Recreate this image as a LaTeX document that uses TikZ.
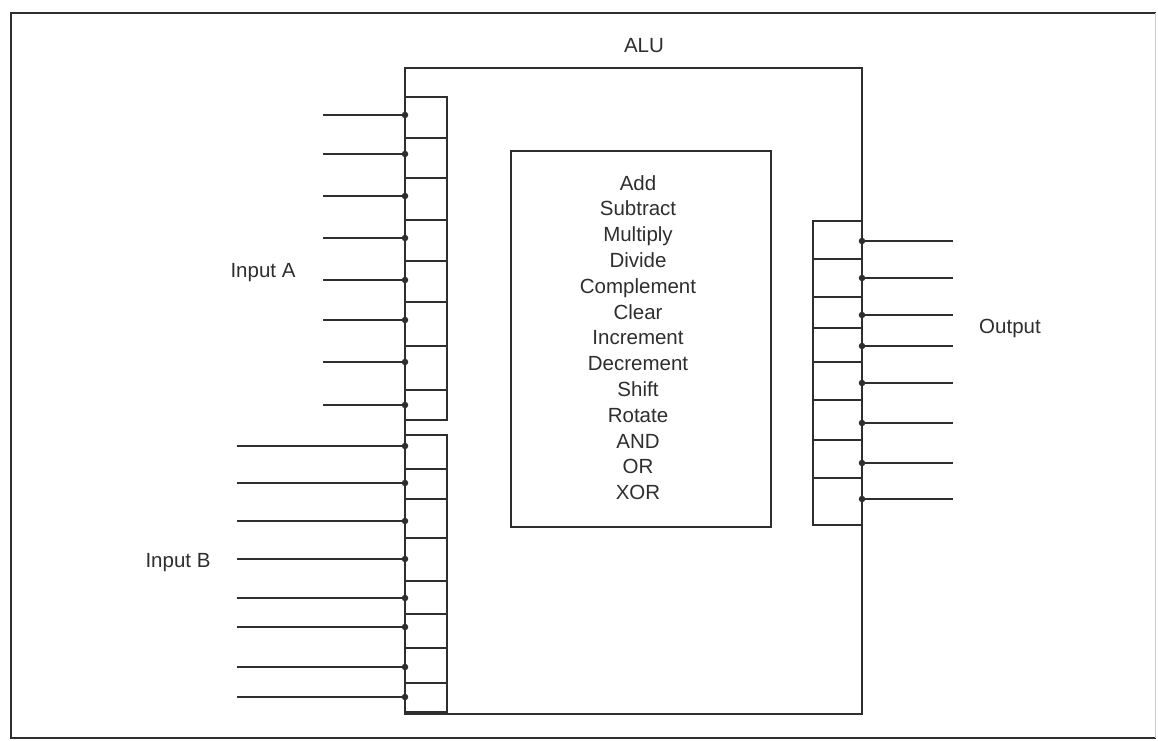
\documentclass[tikz,border=0pt]{standalone}
\usepackage{fontspec}
\setmainfont{Liberation Sans}
\begin{document}
\begin{tikzpicture}[x=1pt,y=-1pt,
  line width=1.6pt,
  ink/.style={draw=black!82},
  lbl/.style={font=\fontsize{20.5}{24}\selectfont, inner sep=0pt, anchor=base, text=black!82},
  wire/.style={ink, line width=1.7pt},
  dot/.style={circle, fill=black!82, inner sep=0pt, minimum size=6.5pt}]
\useasboundingbox (0,0) rectangle (1158,740);
% outer frame
\draw[ink] (1156,13) -- (11,13) -- (11,738) -- (1156,738);
\draw[black!20, line width=1pt] (1155,13) -- (1155,738);
% ALU box
\node[lbl] (alu) at (644,52) {ALU};
\draw[ink] (405,68) rectangle (862,714);
% operations box
\draw[ink] (511,151) rectangle (771,527);
\foreach \t [count=\i] in {Add,Subtract,Multiply,Divide,Complement,Clear,Increment,Decrement,Shift,Rotate,AND,OR,XOR}
  \node[lbl] (op\i) at (638,{190+25.8*(\i-1)}) {\t};
% register A
\draw[ink] (405,97) rectangle (447,420);
\foreach \y in {138,178,220,261,302,346,390} \draw[ink] (405,\y) -- (447,\y);
% register B
\draw[ink] (405,435) rectangle (447,712);
\foreach \y in {469,499,538,581,614,648,683} \draw[ink] (405,\y) -- (447,\y);
% output register
\draw[ink] (813,221) rectangle (862,525);
\foreach \y in {259,297,328,362,400,440,478} \draw[ink] (813,\y) -- (862,\y);
% input A wires
\foreach \y [count=\i] in {115,154,196,238,280,320,362,405} {
  \coordinate (a\i) at (323,\y);
  \node[dot] (pa\i) at (405,\y) {};
  \draw[wire] (a\i) -- (pa\i.center);
}
% input B wires
\foreach \y [count=\i] in {446,483,521,559,598,627,667,697} {
  \coordinate (b\i) at (237,\y);
  \node[dot] (pb\i) at (405,\y) {};
  \draw[wire] (b\i) -- (pb\i.center);
}
% output wires
\foreach \y [count=\i] in {241,278,315,346,383,423,463,499} {
  \coordinate (o\i) at (953,\y);
  \node[dot] (po\i) at (862,\y) {};
  \draw[wire] (po\i.center) -- (o\i);
}
% labels
\node[lbl] (ina) at (263,277) {Input A};
\node[lbl] (inb) at (178,567) {Input B};
\node[lbl] (out) at (1010,333) {Output};
\end{tikzpicture}
\end{document}
